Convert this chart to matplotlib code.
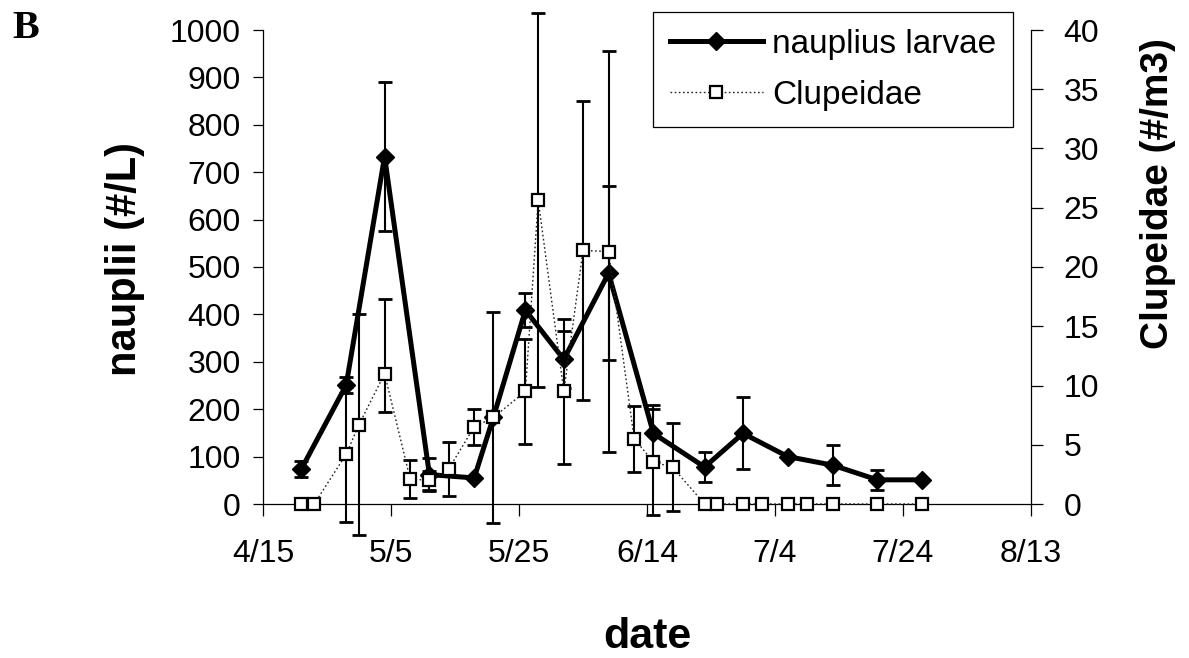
import numpy as np
import pandas as pd
import matplotlib
matplotlib.use("Agg")
import matplotlib.pyplot as plt

# ---------------- data ----------------
year = "2003/"
naup_dates = ["4/21", "4/28", "5/4", "5/11", "5/18", "5/21", "5/26", "6/1",
              "6/8", "6/15", "6/23", "6/29", "7/6", "7/13", "7/20", "7/27"]
naup_vals = [74, 251, 733, 62, 55, 183, 409, 305, 487, 149, 78, 149, 100, 82, 51, 51]
naup_err = [16, 17, 157, 34, 0, 0, 36, 61, 183, 60, 31, 76, 0, 42, 21, 0]

clup_dates = ["4/21", "4/23", "4/28", "4/30", "5/4", "5/8", "5/11", "5/14", "5/18",
              "5/21", "5/26", "5/28", "6/1", "6/4", "6/8", "6/12", "6/15", "6/18",
              "6/23", "6/25", "6/29", "7/2", "7/6", "7/9", "7/13", "7/20", "7/27"]
clup_vals = [0, 0, 4.2, 6.7, 11.0, 2.1, 2.0, 2.95, 6.5,
             7.3, 9.5, 25.65, 9.5, 21.4, 21.3, 5.5, 3.55, 3.1,
             0, 0, 0, 0, 0, 0, 0, 0, 0]
clup_err_lo = [0, 0, 5.7, 9.3, 3.2, 1.6, 0.8, 2.3, 1.55,
               8.9, 4.4, 15.75, 6.1, 12.6, 16.9, 2.8, 4.5, 3.7,
               0, 0, 0, 0, 0, 0, 0, 0, 0]
clup_err_hi = [0, 0, 5.7, 9.3, 6.3, 1.6, 0.8, 2.3, 1.55,
               8.9, 4.4, 15.75, 6.1, 12.6, 16.9, 2.8, 4.5, 3.7,
               0, 0, 0, 0, 0, 0, 0, 0, 0]

xtick_dates = ["4/15", "5/5", "5/25", "6/14", "7/4", "7/24", "8/13"]
left_ticks = [0, 100, 200, 300, 400, 500, 600, 700, 800, 900, 1000]
right_ticks = [0, 5, 10, 15, 20, 25, 30, 35, 40]

# ---------------- helpers ----------------
def to_dt(lst):
    return pd.to_datetime([year + s for s in lst], format="%Y/%m/%d")

nx = to_dt(naup_dates)
cx = to_dt(clup_dates)
tx = to_dt(xtick_dates)
ny = np.array(naup_vals, float)
ne = np.array(naup_err, float)
cy = np.array(clup_vals, float)
clo = np.array(clup_err_lo, float)
chi = np.array(clup_err_hi, float)

plt.rcParams['font.family'] = ['Liberation Sans', 'DejaVu Sans']

W, H = 1189, 658
fig = plt.figure(figsize=(W / 100, H / 100), dpi=100)
L, R, T, B = 263, 1031, 30, 504
ax = fig.add_axes([L / W, 1 - B / H, (R - L) / W, (B - T) / H])
ax2 = ax.twinx()

# nauplius (left axis)
m = ne > 0
eb1 = ax.errorbar(nx[m], ny[m], yerr=ne[m], fmt='none', ecolor='black',
                  elinewidth=1.5, capsize=4.7, capthick=2.0, zorder=3)
ln1, = ax.plot(nx, ny, color='black', lw=3.6, marker='D', ms=9.5,
               mfc='black', mec='black', zorder=4, clip_on=False)

# Clupeidae (right axis)
mc = (clo > 0) | (chi > 0)
eb2 = ax2.errorbar(cx[mc], cy[mc], yerr=[clo[mc], chi[mc]], fmt='none', ecolor='black',
                   elinewidth=1.5, capsize=4.7, capthick=2.0, zorder=3)
ln2, = ax2.plot(cx, cy, color='#222222', lw=1.0, ls=(0, (1.2, 1.8)), marker='s', ms=8,
                mfc='white', mec='black', mew=1.6, zorder=4, clip_on=False)

for eb in (eb1, eb2):
    for art in eb.lines:
        if art is None:
            continue
        if isinstance(art, (tuple, list)):
            for a in art:
                a.set_clip_on(False)
        else:
            art.set_clip_on(False)

ax.set_xlim(tx[0], tx[-1])
ax.set_ylim(0, 1000)
ax2.set_ylim(0, 40)
ax.set_xticks(tx)
ax.set_xticklabels(xtick_dates)
ax.set_yticks(left_ticks)
ax.set_yticklabels([str(v) for v in left_ticks])
ax2.set_yticks(right_ticks)
ax2.set_yticklabels([str(v) for v in right_ticks])

for a in (ax, ax2):
    a.spines['top'].set_visible(False)
    for s in a.spines.values():
        s.set_linewidth(0.9)
ax.spines['right'].set_visible(False)
ax2.spines['left'].set_visible(False)
ax2.spines['bottom'].set_visible(False)

ax.tick_params(axis='y', direction='out', length=7, width=0.9, pad=9, labelsize=23)
ax.tick_params(axis='x', direction='out', length=8.5, width=0.9, pad=17, labelsize=23)
ax2.tick_params(axis='y', direction='out', length=8.5, width=0.9, pad=15, labelsize=23)

ax.set_xlabel('date', fontsize=31, fontweight='bold', va='baseline')
ax.xaxis.set_label_coords(0.5, (B - 648) / (B - T))
ax.set_ylabel('nauplii (#/L)', fontsize=30, fontweight='bold', va='center', ha='center')
ax.yaxis.set_label_coords((125 - L) / (R - L), (B - 259) / (B - T))
ax2.set_ylabel('Clupeidae (#/m3)', fontsize=28, fontweight='bold', va='center', ha='center',
               rotation=90)
ax2.yaxis.set_label_coords((1158 - L) / (R - L), (B - 194) / (B - T))

leg = ax2.legend([ln1, ln2], ['nauplius larvae', 'Clupeidae'], loc='upper right',
                 bbox_to_anchor=(1013 / W, 1 - 12 / H), bbox_transform=fig.transFigure,
                 fontsize=24, frameon=True, fancybox=False, edgecolor='black',
                 framealpha=1, borderaxespad=0, borderpad=0.5, labelspacing=0.6,
                 handlelength=2.8, handletextpad=0.28, numpoints=1)
leg.get_frame().set_linewidth(0.9)

fig.text(12 / W, 1 - 38 / H, 'B', family=['Liberation Serif', 'DejaVu Serif'],
         fontsize=29, fontweight='bold', ha='left', va='baseline')

fig.savefig('out.png', dpi=100, facecolor='white')
